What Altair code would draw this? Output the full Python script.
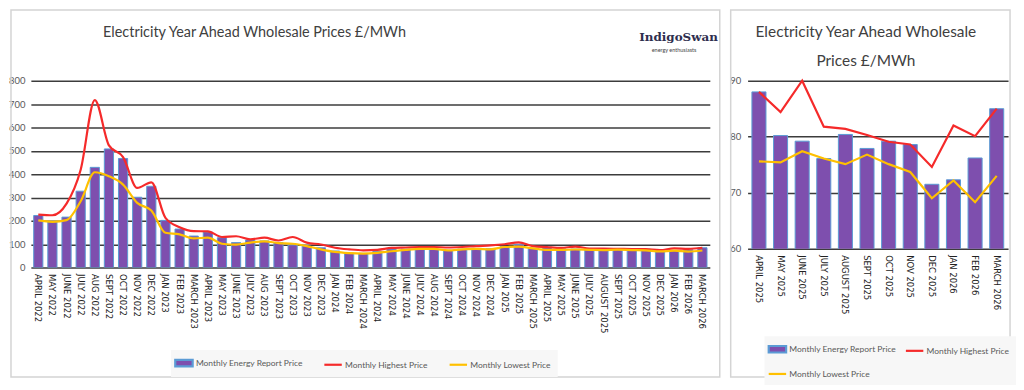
import altair as alt
import pandas as pd

months = [
    "APRIL 2022", "MAY 2022", "JUNE 2022", "JULY 2022", "AUG 2022", "SEPT 2022",
    "OCT 2022", "NOV 2022", "DEC 2022", "JAN 2023", "FEB 2023", "MARCH 2023",
    "APRIL 2023", "MAY 2023", "JUNE 2023", "JULY 2023", "AUG 2023", "SEPT 2023",
    "OCT 2023", "NOV 2023", "DEC 2023", "JAN 2024", "FEB 2024", "MARCH 2024",
    "APRIL 2024", "MAY 2024", "JUNE 2024", "JULY 2024", "AUG 2024", "SEPT 2024",
    "OCT 2024", "NOV 2024", "DEC 2024", "JAN 2025", "FEB 2025", "MARCH 2025",
    "APRIL 2025", "MAY 2025", "JUNE 2025", "JULY 2025", "AUGUST 2025", "SEPT 2025",
    "OCT 2025", "NOV 2025", "DEC 2025", "JAN 2026", "FEB 2026", "MARCH 2026",
]

report_price = [
    223, 195, 216, 327, 429, 508, 467, 301, 348, 202, 165, 135,
    152, 128, 107, 118, 114, 107, 97, 92, 85, 71, 62, 61,
    69, 79, 79, 79, 79, 74, 79, 81, 81, 89, 100, 83,
    88.0, 80.2, 79.2, 76.1, 80.4, 77.9, 79.2, 78.6, 71.5, 72.3, 76.2, 85.0,
]

highest_price = [
    227, 224, 274, 419, 717, 523, 473, 341, 365, 213, 173, 156,
    155, 131, 134, 121, 128, 116, 131, 107, 99, 85, 78, 74,
    76, 84, 86, 88, 88, 86, 88, 92, 95, 100, 108, 92,
    88.0, 84.4, 90.0, 81.8, 81.4, 80.3, 79.1, 78.6, 74.6, 82.0, 80.1, 85.0,
]

lowest_price = [
    202, 196, 203, 284, 408, 391, 355, 277, 244, 149, 142, 125,
    128, 102, 98, 107, 112, 105, 102, 92, 78, 67, 62, 60,
    63, 70, 76, 80, 80, 74, 78, 80, 78, 88, 90, 82,
    75.6, 75.4, 77.4, 76.1, 75.1, 76.8, 75.1, 73.7, 69.0, 72.2, 68.3, 73.0,
]

series_names = ["Monthly Energy Report Price", "Monthly Highest Price", "Monthly Lowest Price"]

title_wide = "Electricity Year Ahead Wholesale Prices £/MWh"
title_line1 = "Electricity Year Ahead Wholesale"
title_line2 = "Prices £/MWh"
logo_name_text = "IndigoSwan"
logo_tag_text = "energy enthusiasts"

PURPLE = "#7E4FAE"
BLUE = "#5B9BD5"
RED = "#F52A2A"
YELLOW = "#FFC000"
GRID = "#3C3C3C"
SANS = "Lato"
RECT_PATH = "M-1.6,-0.6H1.6V0.6H-1.6Z"
LINE_PATH = "M-1.6,0H1.6"

one_row = pd.DataFrame({"k": [0]})


def text_mark(txt, x, y, size, color="#404040", font=SANS, align="center", weight="normal"):
    return alt.Chart(one_row).mark_text(
        text=txt, font=font, fontSize=size, color=color, align=align,
        baseline="middle", fontWeight=weight,
    ).encode(x=alt.value(x), y=alt.value(y))


def panel(n, width, height, ydomain, yvalues, interp, legend, border, label_pad, extra):
    sub_months = months[-n:]
    df = pd.DataFrame({
        "month": sub_months,
        "report": report_price[-n:],
        "high": highest_price[-n:],
        "low": lowest_price[-n:],
    })
    leg_df = pd.DataFrame({"series": series_names})

    x = alt.X(
        "month:N", sort=sub_months,
        scale=alt.Scale(paddingInner=0.35, paddingOuter=0.2),
        axis=alt.Axis(title=None, labelAngle=90, ticks=False, domain=False,
                      labelFont="DejaVu Sans", labelFontSize=8.5, labelColor="#222222",
                      labelPadding=6, labelOverlap=False),
    )
    yscale = alt.Scale(domain=ydomain, nice=False, zero=False)
    yaxis = alt.Axis(title=None, values=yvalues, grid=True, gridColor=GRID, gridWidth=1.5,
                     domain=False, ticks=False, labelFont=SANS, labelFontSize=9.5,
                     labelColor="#595959", labelPadding=label_pad, tickCount=len(yvalues))

    def yenc(field):
        return alt.Y(field, type="quantitative", scale=yscale, axis=yaxis)

    frame = alt.Chart(one_row).mark_rect(
        filled=False, color="#D4D4D4", strokeWidth=1.5
    ).encode(
        x=alt.value(border[0]), x2=alt.value(border[1]),
        y=alt.value(border[2]), y2=alt.value(border[3]),
    )

    base = alt.Chart(df)
    bars = base.mark_bar(fill=PURPLE, stroke=BLUE, strokeWidth=1, clip=True).encode(
        x=x, y=yenc("report")
    )
    high_line = base.mark_line(color=RED, strokeWidth=2.2, interpolate=interp).encode(
        x=x, y=yenc("high")
    )
    low_line = base.mark_line(color=YELLOW, strokeWidth=2.2, interpolate=interp).encode(
        x=x, y=yenc("low")
    )

    leg = alt.Legend(**legend)
    keys = alt.Chart(leg_df).mark_point(filled=True, opacity=0).encode(
        x=alt.value(0), y=alt.value(0),
        color=alt.Color("series:N", scale=alt.Scale(domain=series_names, range=[PURPLE, RED, YELLOW]), legend=leg),
        stroke=alt.Stroke("series:N", scale=alt.Scale(domain=series_names, range=[BLUE, RED, YELLOW]), legend=leg),
        shape=alt.Shape("series:N", scale=alt.Scale(domain=series_names, range=[RECT_PATH, LINE_PATH, LINE_PATH]), legend=leg),
    )

    layers = [frame, bars, high_line, low_line, keys] + extra
    return alt.layer(*layers).properties(width=width, height=height)


common_legend = dict(
    orient="none", direction="horizontal", title=None,
    labelFont=SANS, labelFontSize=8.5, labelColor="#595959", labelOffset=5,
    symbolSize=120, symbolStrokeWidth=2.2, symbolOpacity=1,
    fillColor="#F7F7F7",
)

left_legend = dict(common_legend, legendX=141, legendY=271, padding=6, columnPadding=16)
right_legend = dict(common_legend, legendX=17, legendY=257, padding=6, columns=2,
                    columnPadding=4, rowPadding=10)

left_extra = [
    text_mark(title_wide, 225, -48, 14.5),
    text_mark(logo_name_text, 612, -44, 12, color="#2E2E4E", font="DejaVu Serif", align="left", weight="bold"),
    text_mark(logo_tag_text, 647, -31, 5.5, color="#444444"),
]
right_extra = [
    text_mark(title_line1, 119, -49, 15.5),
    text_mark(title_line2, 119, -20, 15.5),
]

left = panel(48, 683, 188, [0, 800], list(range(0, 801, 100)), "monotone",
             left_legend, (-20, 693, -71, 298), 6, left_extra)
right = panel(12, 262, 169, [60, 90], [60, 70, 80, 90], "linear",
              right_legend, (-17, 264, -71, 298), 7, right_extra)

chart = alt.hconcat(left, right, spacing=38, bounds="flush").resolve_scale(
    color="independent", stroke="independent", shape="independent"
).resolve_legend(
    color="independent", stroke="independent", shape="independent"
).properties(
    padding=0, background="white"
).configure_view(stroke=None)

chart.save("out.html", embed_options={"renderer": "svg", "actions": False})
